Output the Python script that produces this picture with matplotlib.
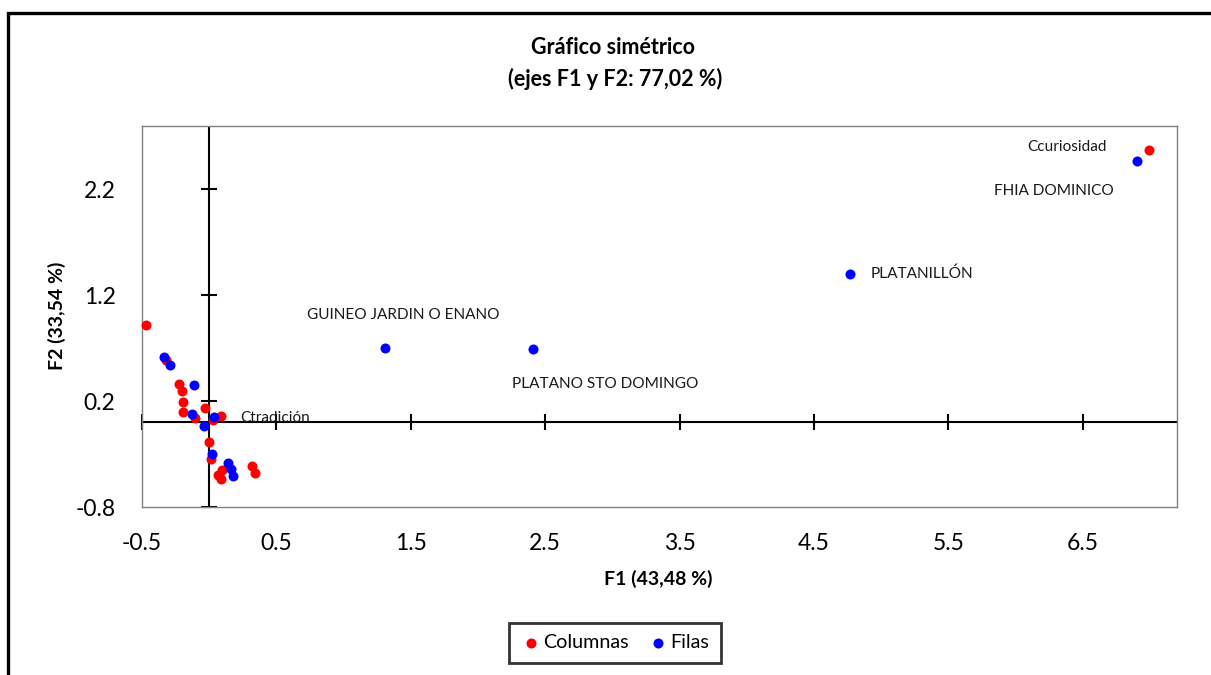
import matplotlib
matplotlib.use("Agg")
import matplotlib.pyplot as plt
from matplotlib.patches import Rectangle

plt.rcParams['font.family'] = ['Lato', 'DejaVu Sans']

# Column coordinates (F1, F2)
col_f1 = [-0.468, -0.321, -0.222, -0.200, -0.195, -0.195, -0.108, -0.031, 0.088,
          0.028, -0.001, 0.016, 0.063, 0.097, 0.088, 0.318, 0.343, 6.995]
col_f2 = [0.918, 0.590, 0.363, 0.297, 0.196, 0.095, 0.037, 0.133, 0.056,
          0.023, -0.188, -0.346, -0.494, -0.453, -0.535, -0.409, -0.481, 2.572]
col_names = ['', '', '', '', '', '', '', '', 'Ctradición',
             '', '', '', '', '', '', '', '', 'Ccuriosidad']

# Row coordinates (F1, F2)
row_f1 = [-0.336, -0.289, -0.115, -0.130, 0.036, -0.037, 0.023, 0.142, 0.160,
          0.179, 1.308, 2.409, 4.768, 6.906]
row_f2 = [0.615, 0.540, 0.351, 0.082, 0.046, -0.031, -0.296, -0.381, -0.440,
          -0.507, 0.700, 0.694, 1.400, 2.473]
row_names = ['', '', '', '', '', '', '', '', '', '',
             'GUINEO JARDIN O ENANO', 'PLATANO STO DOMINGO', 'PLATANILLÓN', 'FHIA DOMINICO']

x_ticks = [-0.5, 0.5, 1.5, 2.5, 3.5, 4.5, 5.5, 6.5]
y_ticks = [-0.8, 0.2, 1.2, 2.2]

title = 'Gráfico simétrico\n(ejes F1 y F2: 77,02 %)'
x_label = 'F1 (43,48 %)'
y_label = 'F2 (33,54 %)'

# label placement: (dx, dy) in points, horizontal alignment
label_style = {
    'Ctradición': ((14, -1), 'left'),
    'Ccuriosidad': ((-31, 2), 'right'),
    'GUINEO JARDIN O ENANO': ((13, 24), 'center'),
    'PLATANO STO DOMINGO': ((52, -25), 'center'),
    'PLATANILLÓN': ((15, 0), 'left'),
    'FHIA DOMINICO': ((-17, -22), 'right'),
}

W, H = 1211, 675
fig = plt.figure(figsize=(W / 100, H / 100), dpi=100)
fig.patch.set_facecolor('white')

# outer chart border (left and top visible)
fig.patches.append(Rectangle((8 / W, -0.05), 1.1, 1 - 13 / H + 0.05,
                             transform=fig.transFigure, fill=False,
                             edgecolor='black', linewidth=2.4))

ax = fig.add_axes([142 / W, 1 - 507 / H, 1035 / W, 381 / H])
ax.set_xlim(-0.5, 7.2)
ax.set_ylim(-0.8, 2.8)

for s in ax.spines.values():
    s.set_color('#808080')
    s.set_linewidth(1.0)

ax.set_xticks(x_ticks)
ax.set_yticks(y_ticks)
ax.set_xticklabels([f'{v:g}' for v in x_ticks])
ax.set_yticklabels([f'{v:g}' for v in y_ticks])
ax.tick_params(axis='both', length=0, labelsize=16.5, colors='black')
ax.tick_params(axis='x', pad=19)
ax.tick_params(axis='y', pad=19)

# axes through the origin with crossing tick marks
ax.axhline(0, color='black', lw=1.5, zorder=1)
ax.axvline(0, color='black', lw=1.5, zorder=1)
ax.plot(x_ticks, [0] * len(x_ticks), linestyle='none', marker='|',
        markersize=12, markeredgewidth=1.5, color='black', zorder=1, clip_on=False)
ax.plot([0] * len(y_ticks), y_ticks, linestyle='none', marker='_',
        markersize=12, markeredgewidth=1.5, color='black', zorder=1, clip_on=False)

ax.scatter(col_f1, col_f2, s=52, color='#ff0000', linewidths=0, zorder=3,
           label='Columnas', clip_on=False)
ax.scatter(row_f1, row_f2, s=52, color='#0000ff', linewidths=0, zorder=4,
           label='Filas', clip_on=False)

for xs, ys, names in ((col_f1, col_f2, col_names), (row_f1, row_f2, row_names)):
    for x, y, name in zip(xs, ys, names):
        if not name:
            continue
        (dx, dy), ha = label_style[name]
        ax.annotate(name, (x, y), xytext=(dx, dy), textcoords='offset points',
                    ha=ha, va='center', fontsize=11.1, color='#1a1a1a', zorder=5)

fig.text(613 / W, 1 - 47 / H, 'Gráfico simétrico', ha='center', va='center',
         fontsize=15.5, fontweight='bold')
fig.text(615 / W, 1 - 79 / H, '(ejes F1 y F2: 77,02 %)', ha='center', va='center',
         fontsize=15.5, fontweight='bold')
fig.text(658 / W, 1 - 579 / H, x_label, ha='center', va='center',
         fontsize=14, fontweight='bold')
fig.text(57 / W, 1 - 316 / H, y_label, ha='center', va='center',
         fontsize=14, fontweight='bold', rotation=90)

leg = fig.legend(loc='center', bbox_to_anchor=(615 / W, 1 - 643 / H), ncol=2,
                 fontsize=14.2, frameon=True, fancybox=False, handletextpad=0.1,
                 columnspacing=1.0, handlelength=1.0, borderpad=0.6,
                 borderaxespad=0, markerscale=1.0)
leg.get_frame().set_edgecolor('black')
leg.get_frame().set_linewidth(2.0)

fig.savefig('out.png', dpi=100)
